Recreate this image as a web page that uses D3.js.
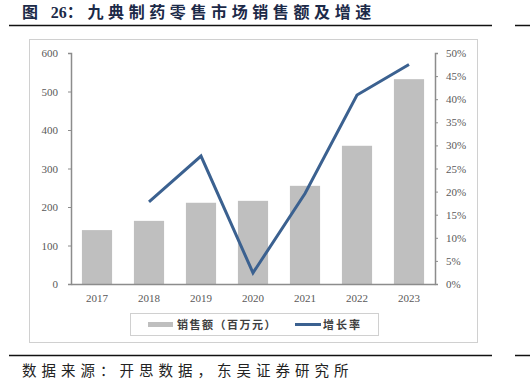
<!DOCTYPE html>
<html>
<head>
<meta charset="utf-8">
<script src="https://cdn.jsdelivr.net/npm/d3@7"></script>
<style>
  body { margin: 0; background: #fff; }
  svg { display: block; }
</style>
</head>
<body>
<div id="chart"></div>
<script>
// Data
const years = ["2017", "2018", "2019", "2020", "2021", "2022", "2023"];
const sales = [140, 164, 211, 216, 255, 359, 532];          // 销售额（百万元）
const growth = [null, 17.8, 27.7, 2.4, 19.6, 40.9, 47.5];   // 增长率 (%)
const leftTicks = [0, 100, 200, 300, 400, 500, 600];
const rightTicks = [0, 5, 10, 15, 20, 25, 30, 35, 40, 45, 50];

const W = 530, H = 385;
const svg = d3.select("#chart").append("svg")
  .attr("width", W).attr("height", H);

const serif = "'Liberation Serif', 'DejaVu Serif', serif";
const cjk = "'Noto Sans CJK SC', sans-serif";

// Title + rules
const title = svg.append("text")
  .attr("x", 22).attr("y", 18)
  .attr("font-family", cjk).attr("font-weight", "bold")
  .attr("font-size", 16).attr("fill", "#1c2a48");
title.append("tspan").attr("letter-spacing", 4.6).text("图 ");
title.append("tspan").attr("font-family", serif).attr("letter-spacing", 0).text("26");
title.append("tspan").attr("letter-spacing", 4.6).text("：九典制药零售市场销售额及增速");

svg.append("line").attr("x1", 9).attr("x2", 492).attr("y1", 25.5).attr("y2", 25.5)
  .attr("stroke", "#111").attr("stroke-width", 1.5);
svg.append("line").attr("x1", 515).attr("x2", 530).attr("y1", 25.5).attr("y2", 25.5)
  .attr("stroke", "#111").attr("stroke-width", 1.5);

// Chart frame
svg.append("rect").attr("x", 29.5).attr("y", 39.5).attr("width", 448).attr("height", 303)
  .attr("fill", "none").attr("stroke", "#d0d0d0");

// Scales
const x = d3.scaleBand().domain(years).range([71, 435]).paddingInner(0.42).paddingOuter(0.21);
const yL = d3.scaleLinear().domain([0, 600]).range([284, 53]);
const yR = d3.scaleLinear().domain([0, 50]).range([284, 53]);

// Bars
svg.append("g").selectAll("rect").data(years).join("rect")
  .attr("x", d => x(d))
  .attr("width", x.bandwidth())
  .attr("y", (d, i) => yL(sales[i]))
  .attr("height", (d, i) => yL(0) - yL(sales[i]))
  .attr("fill", "#bfbfbf");

// Axes
function styleAxis(g) {
  g.select(".domain").attr("stroke", "#8c8c8c").attr("stroke-width", 1.5);
  g.selectAll(".tick line").attr("stroke", "#8c8c8c");
  g.selectAll(".tick text").attr("fill", "#595959")
    .attr("font-family", serif).attr("font-size", 11);
}

svg.append("g")
  .attr("transform", "translate(71,0)")
  .call(d3.axisLeft(yL).tickValues(leftTicks).tickSize(3).tickSizeOuter(3).tickPadding(10))
  .call(styleAxis);

svg.append("g")
  .attr("transform", "translate(435,0)")
  .call(d3.axisRight(yR).tickValues(rightTicks).tickSize(3).tickSizeOuter(3).tickPadding(8)
    .tickFormat(d => d + "%"))
  .call(styleAxis);

svg.append("g")
  .attr("transform", "translate(0,284)")
  .call(d3.axisBottom(x).tickSize(0).tickPadding(10))
  .call(styleAxis);

// Growth line
const line = d3.line()
  .defined(d => d.v != null)
  .x(d => x(d.year) + x.bandwidth() / 2)
  .y(d => yR(d.v));

svg.append("path")
  .datum(years.map((year, i) => ({ year, v: growth[i] })))
  .attr("d", line)
  .attr("fill", "none")
  .attr("stroke", "#3b6190")
  .attr("stroke-width", 3)
  .attr("stroke-linejoin", "miter");

// Legend
const lg = svg.append("g");
lg.append("rect").attr("x", 130.5).attr("y", 313.5).attr("width", 248).attr("height", 22)
  .attr("fill", "#fff").attr("stroke", "#d0d0d0");
lg.append("line").attr("x1", 148).attr("x2", 173).attr("y1", 324.5).attr("y2", 324.5)
  .attr("stroke", "#bfbfbf").attr("stroke-width", 5);
lg.append("text").attr("x", 177).attr("y", 329)
  .attr("font-family", cjk).attr("font-weight", "bold").attr("font-size", 11)
  .attr("letter-spacing", 1.5).attr("fill", "#404040")
  .text("销售额（百万元）");
lg.append("line").attr("x1", 295).attr("x2", 321).attr("y1", 324.5).attr("y2", 324.5)
  .attr("stroke", "#3b6190").attr("stroke-width", 3);
lg.append("text").attr("x", 323).attr("y", 329)
  .attr("font-family", cjk).attr("font-weight", "bold").attr("font-size", 11)
  .attr("letter-spacing", 2).attr("fill", "#404040")
  .text("增长率");

// Footer
svg.append("line").attr("x1", 9).attr("x2", 492).attr("y1", 355.5).attr("y2", 355.5)
  .attr("stroke", "#111").attr("stroke-width", 1.5);
svg.append("line").attr("x1", 515).attr("x2", 530).attr("y1", 355.5).attr("y2", 355.5)
  .attr("stroke", "#111").attr("stroke-width", 1.5);
svg.append("text")
  .attr("x", 22).attr("y", 376)
  .attr("font-family", cjk).attr("font-size", 14.5).attr("letter-spacing", 5).attr("fill", "#222")
  .text("数据来源：开思数据，东吴证券研究所");
</script>
</body>
</html>
